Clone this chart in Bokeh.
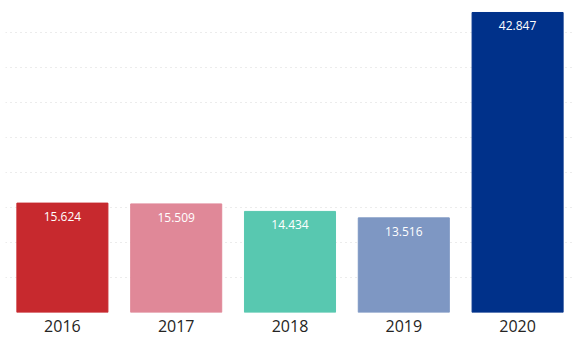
from bokeh.plotting import figure
from bokeh.models import ColumnDataSource, Range1d, LabelSet, SingleIntervalTicker
from bokeh.core.properties import value
from bokeh.embed import file_html
from bokeh.resources import INLINE

years = ["2016", "2017", "2018", "2019", "2020"]
values = [15.624, 15.509, 14.434, 13.516, 42.847]
labels = ["15.624", "15.509", "14.434", "13.516", "42.847"]
colors = ["#C7292E", "#E08898", "#58C8B0", "#7E97C3", "#00318A"]

src = ColumnDataSource(dict(x=years, top=values, lab=labels, color=colors))

p = figure(x_range=years, y_range=Range1d(0, 44.56),
           frame_width=569, frame_height=312,
           output_backend="svg", toolbar_location=None,
           min_border_left=5, min_border_right=3, min_border_top=0, min_border_bottom=40)
p.x_range.range_padding = 0
p.vbar(x="x", top="top", width=0.8, color="color", source=src)

labs = LabelSet(x="x", y="top", text="lab", source=src, text_align="center",
                text_baseline="top", y_offset=-9, text_color="#FFFFFF",
                text_font_size="12px", text_font=value("Open Sans"))
p.add_layout(labs)

p.yaxis.visible = False
p.yaxis.ticker = SingleIntervalTicker(interval=5)
p.ygrid.ticker = SingleIntervalTicker(interval=5)
p.ygrid.grid_line_color = "#C8C8C8"
p.ygrid.grid_line_dash = "1 4"
p.ygrid.grid_line_alpha = 0.7
p.xgrid.visible = False
p.outline_line_color = None
p.xaxis.axis_line_color = None
p.xaxis.major_tick_line_color = None
p.xaxis.minor_tick_line_color = None
p.xaxis.major_tick_out = 0
p.xaxis.major_tick_in = 0
p.xaxis.major_label_text_font = "Open Sans"
p.xaxis.major_label_text_font_size = "16px"
p.xaxis.major_label_text_color = "#252423"
p.xaxis.major_label_standoff = 7
p.background_fill_color = "white"
p.border_fill_color = "white"

open("out.html", "w").write(file_html(p, INLINE))
